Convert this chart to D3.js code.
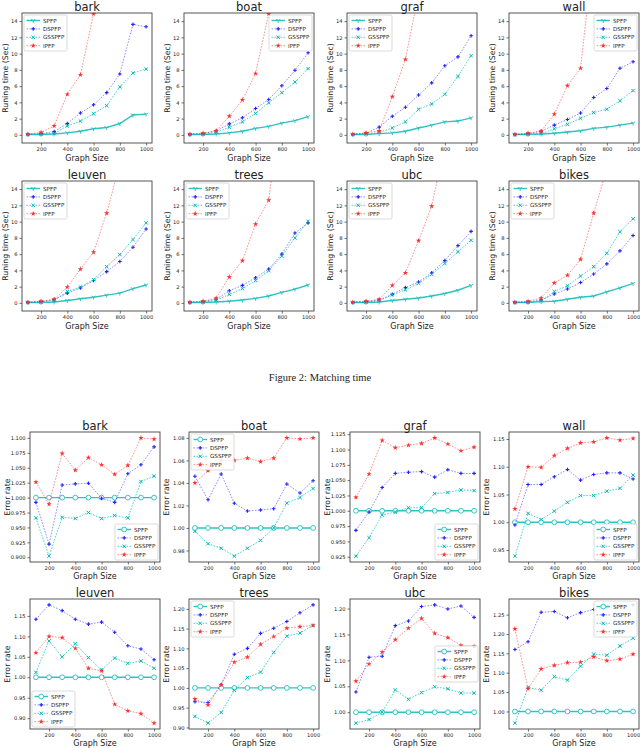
<!DOCTYPE html>
<html>
<head>
<meta charset="utf-8">
<script src="https://cdn.jsdelivr.net/npm/d3@7"></script>
<style>
body { margin: 0; background: #fff; }
text { font-family: "DejaVu Sans", sans-serif; fill: #222; }
</style>
</head>
<body>
<script>
// ---- data ----
var sizes = [100, 200, 300, 400, 500, 600, 700, 800, 900, 1000];
var methods = ["SPFP", "DSPFP", "GSSPFP", "IPFP"];
var datasets = ["bark", "boat", "graf", "wall", "leuven", "trees", "ubc", "bikes"];
var xTicks = [200, 400, 600, 800, 1000];
var timeTicks = [0, 2, 4, 6, 8, 10, 12, 14];

// running time (sec), one row per dataset (IPFP rows run above the plot top)
var timeSPFP = [
    [0.05, 0.05, 0.1, 0.25, 0.45, 0.75, 0.9, 1.4, 2.45, 2.55],
    [0.05, 0.05, 0.1, 0.25, 0.45, 0.8, 1.05, 1.45, 1.75, 2.25],
    [0.05, 0.05, 0.15, 0.25, 0.45, 0.85, 1.2, 1.6, 1.7, 2.1],
    [0.05, 0.05, 0.1, 0.2, 0.35, 0.5, 0.8, 0.95, 1.2, 1.45],
    [0.05, 0.05, 0.1, 0.3, 0.5, 0.7, 0.95, 1.2, 1.75, 2.2],
    [0.05, 0.05, 0.1, 0.2, 0.35, 0.55, 0.85, 1.3, 1.7, 2.2],
    [0.05, 0.05, 0.1, 0.3, 0.45, 0.6, 0.85, 1.15, 1.55, 2.15],
    [0.05, 0.05, 0.15, 0.2, 0.45, 0.7, 0.85, 1.35, 1.85, 2.4]
];
var timeDSPFP = [
    [0.05, 0.15, 0.4, 1.4, 2.7, 3.7, 5.2, 7.5, 13.6, 13.3],
    [0.05, 0.15, 0.5, 1.35, 2.1, 3.25, 4.35, 6.05, 7.95, 10.1],
    [0.05, 0.2, 0.95, 2.3, 3.4, 4.9, 6.4, 8.5, 9.6, 12.2],
    [0.05, 0.15, 0.45, 1.2, 1.9, 2.7, 4.6, 5.7, 8.2, 9.0],
    [0.05, 0.15, 0.4, 1.2, 1.85, 2.75, 3.85, 5.1, 6.85, 9.1],
    [0.05, 0.15, 0.45, 1.5, 2.15, 3.1, 4.15, 6.0, 8.6, 9.85],
    [0.05, 0.15, 0.35, 1.05, 1.9, 2.55, 3.7, 5.2, 7.05, 8.8],
    [0.05, 0.1, 0.35, 1.1, 1.7, 2.5, 3.55, 4.8, 6.4, 8.3]
];
var timeGSSPFP = [
    [0.05, 0.1, 0.15, 1.1, 1.7, 2.6, 3.6, 5.9, 7.6, 8.1],
    [0.05, 0.1, 0.3, 0.95, 1.6, 2.65, 3.95, 5.2, 6.5, 8.15],
    [0.05, 0.1, 0.3, 0.85, 1.6, 3.15, 3.8, 5.0, 7.2, 9.75],
    [0.05, 0.1, 0.15, 0.75, 1.3, 2.05, 2.75, 3.15, 4.2, 5.45],
    [0.05, 0.1, 0.3, 1.4, 1.95, 2.85, 4.45, 5.95, 7.8, 9.85],
    [0.05, 0.1, 0.3, 1.05, 1.75, 2.75, 3.95, 5.75, 8.0, 10.05],
    [0.05, 0.1, 0.25, 1.0, 1.6, 2.4, 3.5, 4.85, 6.3, 7.7],
    [0.05, 0.1, 0.25, 1.4, 2.1, 3.3, 4.45, 6.1, 8.75, 10.35]
];
var timeIPFP = [
    [0.1, 0.3, 1.1, 5.0, 7.4, 14.9, 24],
    [0.1, 0.2, 0.5, 2.3, 4.3, 7.55, 14.9, 24],
    [0.1, 0.25, 0.5, 4.7, 9.3, 17.4],
    [0.05, 0.2, 0.45, 2.55, 6.05, 8.2, 22.7],
    [0.1, 0.2, 0.45, 1.95, 4.15, 6.25, 11.05, 17.1],
    [0.1, 0.2, 0.6, 3.2, 5.2, 9.7, 12.65, 25],
    [0.1, 0.2, 0.45, 2.15, 3.7, 7.65, 11.9, 19.6],
    [0.1, 0.2, 0.6, 2.45, 3.4, 5.35, 11.05, 16.5]
];

// error rate, one row per dataset
var errSPFP = [
    [1, 1, 1, 1, 1, 1, 1, 1, 1, 1],
    [1, 1, 1, 1, 1, 1, 1, 1, 1, 1],
    [1, 1, 1, 1, 1, 1, 1, 1, 1, 1],
    [1, 1, 1, 1, 1, 1, 1, 1, 1, 1],
    [1, 1, 1, 1, 1, 1, 1, 1, 1, 1],
    [1, 1, 1, 1, 1, 1, 1, 1, 1, 1],
    [1, 1, 1, 1, 1, 1, 1, 1, 1, 1],
    [1, 1, 1, 1, 1, 1, 1, 1, 1, 1]
];
var errDSPFP = [
    [0.992, 0.922, 1.021, 1.023, 1.024, 0.999, 0.992, 1.040, 1.055, 1.085],
    [1.046, 1.025, 1.048, 1.022, 1.015, 1.016, 1.017, 1.039, 1.031, 1.042],
    [0.968, 0.998, 1.038, 1.061, 1.063, 1.064, 1.055, 1.067, 1.061, 1.061],
    [0.995, 1.068, 1.068, 1.082, 1.095, 1.076, 1.086, 1.089, 1.089, 1.078],
    [1.142, 1.177, 1.163, 1.142, 1.130, 1.135, 1.110, 1.077, 1.069, 1.043],
    [0.965, 0.963, 1.008, 1.085, 1.100, 1.138, 1.151, 1.168, 1.190, 1.210],
    [1.039, 1.106, 1.108, 1.167, 1.176, 1.204, 1.207, 1.199, 1.205, 1.183],
    [1.160, 1.180, 1.256, 1.258, 1.242, 1.255, 1.263, 1.268, 1.272, 1.275]
];
var errGSSPFP = [
    [0.966, 0.902, 0.967, 0.965, 0.975, 0.965, 0.970, 0.966, 1.027, 1.036],
    [0.997, 0.986, 0.982, 0.975, 0.982, 0.989, 1.000, 1.022, 1.027, 1.035],
    [0.926, 0.956, 0.993, 0.998, 1.005, 1.005, 1.028, 1.030, 1.034, 1.033],
    [0.939, 1.016, 1.005, 1.020, 1.036, 1.048, 1.048, 1.056, 1.061, 1.085],
    [1.012, 1.089, 1.050, 1.082, 1.048, 1.018, 1.047, 1.034, 1.040, 1.022],
    [0.928, 0.911, 0.938, 0.994, 1.026, 1.040, 1.090, 1.131, 1.139, 1.158],
    [0.979, 0.986, 1.000, 1.043, 1.025, 1.038, 1.049, 1.045, 1.037, 1.037],
    [0.970, 1.062, 1.055, 1.090, 1.081, 1.117, 1.148, 1.145, 1.169, 1.189]
];
var errIPFP = [
    [1.026, 0.989, 1.074, 1.046, 1.067, 1.055, 1.039, 1.054, 1.100, 1.098],
    [1.040, 1.051, 1.060, 1.060, 1.062, 1.059, 1.062, 1.080, 1.079, 1.080],
    [1.022, 1.060, 1.115, 1.103, 1.107, 1.110, 1.119, 1.109, 1.098, 1.104],
    [1.024, 1.100, 1.099, 1.120, 1.133, 1.143, 1.145, 1.152, 1.148, 1.151],
    [1.060, 1.100, 1.097, 1.071, 1.022, 1.016, 0.934, 0.918, 0.911, 0.888],
    [0.972, 0.957, 1.008, 1.065, 1.078, 1.110, 1.130, 1.151, 1.155, 1.158],
    [1.060, 1.093, 1.116, 1.140, 1.162, 1.181, 1.152, 1.144, 1.129, 1.127],
    [1.213, 1.059, 1.110, 1.119, 1.126, 1.127, 1.141, 1.131, 1.135, 1.148]
];

var errTicks = [
    [0.900, 0.925, 0.950, 0.975, 1.000, 1.025, 1.050, 1.075, 1.100],
    [0.98, 1.00, 1.02, 1.04, 1.06, 1.08],
    [0.925, 0.950, 0.975, 1.000, 1.025, 1.050, 1.075, 1.100, 1.125],
    [0.95, 1.00, 1.05, 1.10, 1.15],
    [0.90, 0.95, 1.00, 1.05, 1.10, 1.15],
    [0.90, 0.95, 1.00, 1.05, 1.10, 1.15, 1.20],
    [1.00, 1.05, 1.10, 1.15, 1.20],
    [1.00, 1.05, 1.10, 1.15, 1.20, 1.25]
];

var timeLegend = ["ul", "ur", "ul", "ur", "ul", "ul", "ul", "ul"];
var errLegend = ["lr", "ul", "lr", "lr", "ll", "ul", "cr", "ur"];

// ---- layout & styles ----
var W = 640, H = 748;
var topLefts = [22, 184, 347, 509];
var botLefts = [30, 189, 350, 509];
var rowTops = [13, 181, 432, 599];
var pw = 130, ph = 130;
var tickFont = 5.2;

var styles = {
    SPFP:   { color: "#22c0c0", dash: null,      width: 1.4, op: 0.95 },
    DSPFP:  { color: "#2020ff", dash: "1.6,1.4", width: 1,   op: 0.5 },
    GSSPFP: { color: "#10c0c0", dash: "1.6,1.4", width: 1,   op: 0.75 },
    IPFP:   { color: "#ff2020", dash: "1.6,1.4", width: 1,   op: 0.5 }
};

var svg = d3.select("body").append("svg")
    .attr("width", W)
    .attr("height", H);

svg.append("rect").attr("width", W).attr("height", H).attr("fill", "#fff");

var clipId = 0;

// number of decimals a tick step needs (0.025 -> 3, 0.05 -> 2)
function decimals(step){
    var d = 0;
    while (d < 6 && Math.abs(Math.round(step * Math.pow(10, d)) - step * Math.pow(10, d)) > 1e-6) d++;
    return d;
}

// draw one marker at (x, y)
function marker(g, kind, x, y, color, small){
    if (kind === "SPFP") {
        if (small) {
            g.append("path")
                .attr("d", "M" + x + "," + y + "l0,2.4M" + x + "," + y + "l-2.1,-1.2M" + x + "," + y + "l2.1,-1.2")
                .attr("stroke", color).attr("stroke-width", 0.9).attr("fill", "none");
        } else {
            g.append("circle").attr("cx", x).attr("cy", y).attr("r", 2.4)
                .attr("fill", "#fff").attr("stroke", color).attr("stroke-width", 0.9);
        }
    } else if (kind === "DSPFP") {
        g.append("path")
            .attr("d", "M" + (x - 1.8) + "," + y + "h3.6M" + x + "," + (y - 1.8) + "v3.6")
            .attr("stroke", "#2020ff").attr("stroke-width", 1.1).attr("fill", "none");
    } else if (kind === "GSSPFP") {
        g.append("path")
            .attr("d", "M" + (x - 1.7) + "," + (y - 1.7) + "l3.4,3.4M" + (x - 1.7) + "," + (y + 1.7) + "l3.4,-3.4")
            .attr("stroke", "#00b8b8").attr("stroke-width", 1).attr("fill", "none");
    } else {
        g.append("path")
            .attr("d", d3.symbol(d3.symbolStar, 9)())
            .attr("transform", "translate(" + x + "," + y + ")")
            .attr("fill", "#ff3030");
    }
}

function panel(o){
    var g = svg.append("g");
    var x = d3.scaleLinear().domain([55, 1045]).range([o.x0, o.x0 + pw]);
    var y = d3.scaleLinear().domain(o.yDomain).range([o.y0 + ph, o.y0]);

    var id = "clip" + (clipId++);
    svg.append("clipPath").attr("id", id)
        .append("rect").attr("x", o.x0).attr("y", o.y0).attr("width", pw).attr("height", ph);

    // axes
    var xa = g.append("g")
        .attr("transform", "translate(0," + (o.y0 + ph) + ")")
        .call(d3.axisBottom(x).tickValues(xTicks).tickSize(2.5).tickPadding(1.5).tickFormat(d3.format("d")));
    var ya = g.append("g")
        .attr("transform", "translate(" + o.x0 + ",0)")
        .call(d3.axisLeft(y).tickValues(o.yTicks).tickSize(2.5).tickPadding(2).tickFormat(o.yFmt));
    [xa, ya].forEach(function(a){
        a.select(".domain").remove();
        a.selectAll("line").attr("stroke", "#333").attr("stroke-width", 0.7);
        a.selectAll("text").attr("font-size", tickFont).attr("fill", "#222")
            .attr("font-family", "DejaVu Sans, sans-serif");
    });

    // series
    var lines = g.append("g").attr("clip-path", "url(#" + id + ")");
    methods.forEach(function(m, k){
        var vals = o.series[k];
        var pts = vals.map(function(v, i){ return [x(sizes[i]), y(v)]; });
        var st = styles[m];
        lines.append("path")
            .attr("d", d3.line()(pts))
            .attr("fill", "none")
            .attr("stroke", st.color)
            .attr("stroke-opacity", st.op)
            .attr("stroke-width", st.width)
            .attr("stroke-dasharray", st.dash);
        pts.forEach(function(p){
            marker(lines, m, p[0], p[1], st.color, o.small);
        });
    });

    // frame
    g.append("rect")
        .attr("x", o.x0).attr("y", o.y0).attr("width", pw).attr("height", ph)
        .attr("fill", "none").attr("stroke", "#444").attr("stroke-width", 0.9);

    // labels
    g.append("text")
        .attr("x", o.x0 + pw / 2).attr("y", o.y0 - 2.5)
        .attr("text-anchor", "middle").attr("font-size", 11.5)
        .attr("fill", "#111")
        .text(o.title);
    g.append("text")
        .attr("x", o.x0 + pw / 2).attr("y", o.y0 + ph + o.xlabOff)
        .attr("text-anchor", "middle").attr("font-size", 8)
        .text("Graph Size");
    g.append("text")
        .attr("transform", "translate(" + (o.x0 - o.ylabOff) + "," + (o.y0 + ph / 2) + ") rotate(-90)")
        .attr("text-anchor", "middle").attr("font-size", 7.8)
        .text(o.ylabel);

    // legend
    var bw = 43, bh = 36;
    var lx, ly;
    if (o.legend === "ul") { lx = o.x0 + 2; ly = o.y0 + 2; }
    else if (o.legend === "ur") { lx = o.x0 + pw - 2 - bw; ly = o.y0 + 2; }
    else if (o.legend === "lr") { lx = o.x0 + pw - 2 - bw; ly = o.y0 + ph - 2 - bh; }
    else if (o.legend === "ll") { lx = o.x0 + 2; ly = o.y0 + ph - 2 - bh; }
    else { lx = o.x0 + pw - 2 - bw; ly = o.y0 + (ph - bh) / 2; }

    var lg = g.append("g").attr("transform", "translate(" + lx + "," + ly + ")");
    lg.append("rect").attr("width", bw).attr("height", bh).attr("rx", 1.5)
        .attr("fill", "#fff").attr("fill-opacity", 0.85)
        .attr("stroke", "#ccc").attr("stroke-width", 0.7);
    methods.forEach(function(m, k){
        var yy = 5.5 + k * 8.4;
        var st = styles[m];
        lg.append("line")
            .attr("x1", 2.5).attr("x2", 16).attr("y1", yy).attr("y2", yy)
            .attr("stroke", st.color).attr("stroke-opacity", st.op)
            .attr("stroke-width", st.width).attr("stroke-dasharray", st.dash);
        marker(lg, m, 9.2, yy, st.color, o.small);
        lg.append("text")
            .attr("x", 19).attr("y", yy + 2)
            .attr("font-size", 5.6).attr("fill", "#222")
            .text(m);
    });
}

// ---- matching time (top figure) ----
datasets.forEach(function(name, i){
    panel({
        x0: topLefts[i % 4],
        y0: rowTops[Math.floor(i / 4)],
        title: name,
        ylabel: "Runing time (Sec)",
        ylabOff: 14,
        xlabOff: 18,
        yDomain: [-1, 15],
        yTicks: timeTicks,
        yFmt: d3.format("d"),
        series: [timeSPFP[i], timeDSPFP[i], timeGSSPFP[i], timeIPFP[i]],
        legend: timeLegend[i],
        small: true
    });
});

svg.append("text")
    .attr("x", 320).attr("y", 381)
    .attr("text-anchor", "middle")
    .attr("font-size", 10.5)
    .style("font-family", "'Liberation Serif', 'DejaVu Serif', serif")
    .text("Figure 2: Matching time");

// ---- error rate (bottom figure) ----
datasets.forEach(function(name, i){
    var series = [errSPFP[i], errDSPFP[i], errGSSPFP[i], errIPFP[i]];
    var all = d3.merge(series);
    var lo = d3.min(all), hi = d3.max(all), pad = (hi - lo) * 0.05;
    var ticks = errTicks[i];
    panel({
        x0: botLefts[i % 4],
        y0: rowTops[2 + Math.floor(i / 4)],
        title: name,
        ylabel: "Error rate",
        ylabOff: 20,
        xlabOff: 17,
        yDomain: [lo - pad, hi + pad],
        yTicks: ticks,
        yFmt: d3.format("." + decimals(ticks[1] - ticks[0]) + "f"),
        series: series,
        legend: errLegend[i],
        small: false
    });
});
</script>
</body>
</html>
